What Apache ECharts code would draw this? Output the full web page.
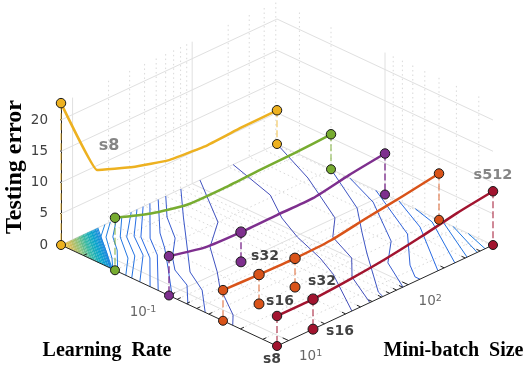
<!DOCTYPE html>
<html><head><meta charset="utf-8">
<style>html,body{margin:0;padding:0;background:#fff}#c{width:529px;height:371px}</style>
<script src="https://cdn.jsdelivr.net/npm/echarts@6/dist/echarts.min.js"></script>
</head><body><div id="c"></div>
<script>
// ---- data ----
const lrValues = [0.4, 0.2, 0.1, 0.05, 0.025];
const batchSizes = [8, 16, 32, 64, 128, 256, 512];
const errLr0400 = [22.7, 9.3, 7.1, 5.5, 5.0, 5.3, 5.4];
const errLr0200 = [8.4, 6.4, 5.1, 5.0, 5.2, 5.3, 5.6];
const errLr0100 = [6.3, 5.0, 4.75, 4.8, 4.8, 5.8, 6.56];
const errLr0050 = [4.9, 4.7, 4.6, 4.8, 5.7, 6.5, 7.4];
const errLr0025 = [4.8, 4.8, 5.2, 5.8, 6.7, 7.8, 8.6];
const lineColors = ['#EDB120', '#77AC30', '#7E2F8E', '#D95319', '#A2142F'];
const dashOpacity = [0.42, 0.6, 0.9, 0.5, 0.5];
const dashWidth = [2, 1.6, 1.5, 1.8, 2];
const lineSmooth = [0.08, 0.2, 0.2, 0.2, 0.2];
const markedBatches = [[8, 512], [8, 512], [8, 32, 512], [8, 16, 32, 512], [8, 16, 512]];
const zTicks = [0, 5, 10, 15, 20];
const zTop = 22.72;
const lrMinor = [0.03, 0.04, 0.05, 0.06, 0.07, 0.08, 0.09, 0.2, 0.3];
const lrMajor = [0.1];
const batchMinor = [20, 30, 40, 50, 60, 70, 80, 90, 200, 300, 400, 500];
const batchMajor = [10, 100];
// contour lines on the floor: level, then [halvings of LR from 0.4, doublings of batch from 8]
const contourLevels = [9.4, 9, 8.6, 8.3, 8, 7.6, 7.2, 6.8, 6.4, 6, 5.7, 5.3, 5.0, 5.1, 5.5, 5.9, 6.6, 7.2, 7.7, 8.1, 8.5, 8.9];
const contourPaths = [
 [[0,1.22],[.21,.79],[.58,.40],[.91,0]],
 [[0,1.37],[.26,.86],[.73,.32],[.96,0]],
 [[0,1.54],[.32,.96],[.62,.63],[1.05,0]],
 [[0,1.69],[.39,1.06],[.88,.54],[1.20,0]],
 [[0,1.95],[.45,1.15],[.90,.70],[1.31,0]],
 [[0,2.11],[.50,1.28],[.96,.84],[1.46,0]],
 [[0,2.28],[.58,1.35],[1.08,.85],[1.65,0]],
 [[0,2.47],[.69,1.44],[1.09,1.04],[1.80,0]],
 [[0,2.70],[.68,1.73],[1.02,1.35],[1.45,.80],[2.06,0]],
 [[0,2.91],[.43,2.30],[.92,1.79],[1.27,1.19],[1.55,.84],[1.96,.56],[2.35,0]],
 [[0,3.33],[.58,2.53],[1.06,1.89],[1.73,.99],[2.20,.62],[2.67,0]],
 [[0,3.86],[1.00,2.86],[1.42,2.01],[1.98,1.37],[2.30,.96],[2.98,.31],[3.18,0]],
 [[0,4.78],[.95,4.39],[1.51,3.87],[2.03,3.52],[2.66,3.21],[3.09,2.92],[4,2.08]],
 [[0,6],[.96,5.42],[2.0,4.61],[2.36,4.01],[2.95,3.65],[3.33,3.09],[4,2.58]],
 [[1,6],[2.01,5.21],[2.55,4.54],[2.99,4.01],[3.87,3.01],[4,2.94]],
 [[1.35,6],[2.04,5.61],[2.98,4.70],[3.38,4.01],[4,3.5]],
 [[1.83,6],[2.99,5.14],[3.63,4.25],[3.91,3.97],[4,3.97]],
 [[2.26,6],[2.97,5.52],[4,4.47]],
 [[2.56,6],[2.98,5.84],[4,4.94]],
 [[3.07,6],[4,5.28]],
 [[3.26,6],[4,5.56]],
 [[3.54,6],[4,5.78]]
];
// dense contours in the high-error corner
const fanLevels = [22.3,22,21.6,21.3,20.9,20.6,20.2,19.9,19.5,19.2,18.8,18.5,18.1,17.8,17.4,17.1,16.7,16.4,16,15.7,15.3,15,14.6,14.3,13.9,13.6,13.2,12.9,12.5,12.2,11.8,11.5,11.1,10.8,10.4,10.1,9.8];
const fanBatchOct = [.03,.06,.08,.11,.14,.17,.19,.22,.25,.28,.30,.33,.36,.39,.41,.44,.47,.50,.52,.55,.58,.61,.63,.66,.69,.72,.74,.77,.80,.83,.85,.88,.91,.94,.96,.99,1.02];
const fanLrOct = [.03,.05,.08,.10,.13,.16,.18,.21,.23,.26,.29,.31,.34,.36,.39,.42,.44,.47,.49,.52,.55,.57,.60,.62,.65,.68,.70,.73,.75,.78,.81,.83,.86,.88,.91,.93,.95];
const parulaStops = ['#4A48B0', '#2A68E4', '#1C86E0', '#06A4CA', '#2EB7A4', '#87BF77', '#D1BB59', '#FEC832'];

// ---- projection of (LR, batch, error) on the flat chart plane ----
const uOf = lr => Math.log2(0.4 / lr);
const vOf = b => Math.log2(b / 8);
const P = (u, v, z) => [54 * u + 36 * v, z + (16.83 * v - 25.25 * u) / 6.25];
const errTable = [errLr0400, errLr0200, errLr0100, errLr0050, errLr0025];
const colorOf = lvl => echarts.color.lerp(Math.min(1, (lvl - 4.5) / 17.8), parulaStops);

const series = [];
const seg = (pts, style, z2, smooth) => series.push({
  type: 'line', data: pts, showSymbol: false, symbol: 'none', clip: false, silent: true,
  animation: false, z: z2 || 2, lineStyle: style, smooth: smooth || false
});
const SOLID = { color: '#e0e0e0', width: 1 };
const DOT = { color: '#d9d9d9', width: 1, type: [1.5, 3] };

// walls and floor grid
zTicks.filter(z => z > 0).forEach(z => {
  seg([P(0, 0, z), P(0, 6, z), P(4, 6, z)], SOLID);
});
seg([P(0, 0, 0), P(0, 6, 0), P(4, 6, 0)], SOLID);
const drawBatch = (b, st) => {
  const v = vOf(b);
  seg([P(0, v, zTop), P(0, v, 0), P(4, v, 0)], st);
};
const drawLr = (lr, st) => {
  const u = uOf(lr);
  seg([P(u, 6, zTop), P(u, 6, 0), P(u, 0, 0)], st);
};
batchMinor.forEach(b => drawBatch(b, DOT));
lrMinor.forEach(l => drawLr(l, DOT));
batchMajor.forEach(b => drawBatch(b, SOLID));
lrMajor.forEach(l => drawLr(l, SOLID));

// contours
fanLevels.forEach((lvl, i) => seg([P(0, fanBatchOct[i], 0), P(fanLrOct[i], 0, 0)], { color: colorOf(lvl), width: 1.2 }, 3));
contourPaths.forEach((path, i) => seg(path.map(p => P(p[0], p[1], 0)), { color: colorOf(contourLevels[i]), width: 1 }, 3));

// axes on the floor and ticks
const AX = { color: '#262626', width: 1 };
seg([P(0, 0, 0), P(4, 0, 0), P(4, 6, 0)], AX, 4);
lrMinor.forEach(l => seg([P(uOf(l), 0, 0), P(uOf(l), 0.1, 0)], AX, 4));
lrMajor.forEach(l => seg([P(uOf(l), 0, 0), P(uOf(l), 0.17, 0)], AX, 4));
batchMinor.forEach(b => seg([P(4, vOf(b), 0), P(3.93, vOf(b), 0)], AX, 4));
batchMajor.forEach(b => seg([P(4, vOf(b), 0), P(3.89, vOf(b), 0)], AX, 4));
zTicks.forEach(z => seg([P(0, 0, z), P(-0.11, 0, z)], AX, 4));

// dashed drop lines, curves and markers
lrValues.forEach((lr, i) => {
  const u = uOf(lr), errs = errTable[i];
  markedBatches[i].forEach(b => {
    const k = batchSizes.indexOf(b);
    seg([P(u, vOf(b), errs[k]), P(u, vOf(b), 0)],
      { color: lineColors[i], width: dashWidth[i], opacity: dashOpacity[i], type: [7, 3] }, 5);
  });
});
lrValues.forEach((lr, i) => {
  const u = uOf(lr), errs = errTable[i];
  seg(batchSizes.map((b, k) => P(u, vOf(b), errs[k])), { color: lineColors[i], width: 2.5, cap: 'round', join: 'round' }, 6, lineSmooth[i]);
  const pts = [];
  markedBatches[i].forEach(b => {
    const k = batchSizes.indexOf(b), big = (b !== 8 && b !== 512) ? 10.5 : 9.5;
    pts.push({ value: P(u, vOf(b), errs[k]), symbolSize: big });
    pts.push({ value: P(u, vOf(b), 0), symbolSize: big - 0.5 });
  });
  series.push({
    type: 'scatter', data: pts, clip: false, silent: true, animation: false, z: 7,
    itemStyle: { color: lineColors[i], borderColor: '#1a1a1a', borderWidth: 1, opacity: 1 }
  });
});

// text attached to data points
const note = (pos, text, off, extra) => ({
  value: pos, symbolSize: 0,
  label: Object.assign({ show: true, position: 'inside', formatter: text, offset: off,
    fontFamily: 'DejaVu Sans', fontWeight: 'bold', fontSize: 14, color: '#111' }, extra || {})
});
const GRAY = { color: '#666666', fontSize: 14.5 };
const GRAY_BIG = { color: '#666666', fontSize: 16 };
const TICK = { fontWeight: 'normal', fontSize: 13.5, color: '#404040',
  rich: { s: { fontSize: 9.5, color: '#404040', fontFamily: 'DejaVu Sans', padding: [0, 0, 6, 0] } } };
series.push({
  type: 'scatter', clip: false, silent: true, animation: false, z: 8, symbolSize: 0,
  data: [
    note(P(0, 1, errLr0400[1]), 's8', [12, -24], GRAY_BIG),
    note(P(4, 6, errLr0025[6]), 's512', [0, -16], GRAY),
    note(P(2, 2, 0), 's32', [24, -5]),
    note(P(3, 1, 0), 's16', [21, -3]),
    note(P(3, 2, 0), 's32', [27, -6]),
    note(P(4, 1, 0), 's16', [27, 2]),
    note(P(4, 0, 0), 's8', [-5, 13]),
    note(P(uOf(0.1), 0, 0), '10{s|-1}', [-26, 17], TICK),
    note(P(4, vOf(10), 0), '10{s|1}', [22, 16], TICK),
    note(P(4, vOf(100), 0), '10{s|2}', [22, 17], TICK)
  ]
});

const serif = 'bold 20px "Liberation Serif"';
const chart = echarts.init(document.getElementById('c'), null, { renderer: 'canvas' });
chart.setOption({
  animation: false,
  backgroundColor: '#fff',
  grid: { left: 61, top: 103, width: 432, height: 142, containLabel: false },
  xAxis: { type: 'value', min: 0, max: 432, show: false },
  yAxis: {
    type: 'value', min: 0, max: zTop, interval: 5, position: 'left',
    axisLine: { show: true, onZero: false, lineStyle: { color: '#262626', width: 1 } },
    axisTick: { show: false }, splitLine: { show: false },
    axisLabel: { show: true, margin: 13, fontFamily: 'DejaVu Sans', fontSize: 13.5, color: '#404040',
      showMaxLabel: false, padding: [0, 0, 6, 0],
      formatter: v => zTicks.includes(v) ? String(v) : '' }
  },
  series,
  graphic: [
    { type: 'text', x: 15, y: 167, rotation: Math.PI / 2, z: 10, style: { text: 'Testing error', font: 'bold 24px "Liberation Serif"', fill: '#000', textAlign: 'center', textVerticalAlign: 'middle' } },
    { type: 'text', x: 107, y: 351, z: 10, style: { text: 'Learning  Rate', font: serif, fill: '#000', textAlign: 'center', textVerticalAlign: 'middle' } },
    { type: 'text', x: 453.5, y: 351, z: 10, style: { text: 'Mini-batch  Size', font: serif, fill: '#000', textAlign: 'center', textVerticalAlign: 'middle' } }
  ]
});
</script></body></html>
